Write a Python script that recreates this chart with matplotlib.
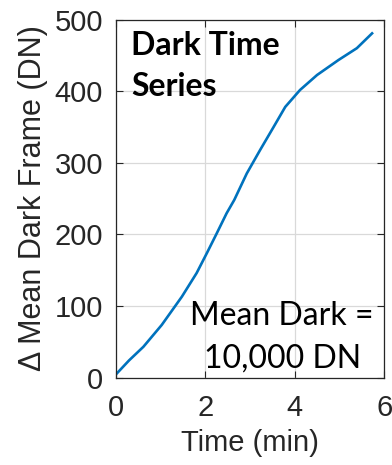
import numpy as np
import matplotlib
matplotlib.use("Agg")
from matplotlib import pyplot as plt

# values
time_min = [0.0, 0.30, 0.62, 1.03, 1.48, 1.81, 2.04, 2.26, 2.48, 2.65, 2.93, 3.23, 3.53, 3.79, 4.12, 4.50, 4.98, 5.39, 5.73]
dark_dn = [4, 24, 43, 73.5, 113, 146, 174, 201.5, 229.5, 248, 285, 318, 350, 378, 401.6, 422.5, 443.5, 460, 480.7]
x_ticks = [0, 2, 4, 6]
y_ticks = [0, 100, 200, 300, 400, 500]

plt.rcParams['font.family'] = ['Liberation Sans', 'DejaVu Sans']
fig = plt.figure(figsize=(3.92, 4.65), dpi=100)
ax = fig.add_axes([0.295, 0.188, 0.685, 0.770])

ax.plot(time_min, dark_dn, color='#0072BD', linewidth=1.9)
ax.set_xlim(0, 6)
ax.set_ylim(0, 500)
ax.set_xticks(x_ticks)
ax.set_yticks(y_ticks)
ax.grid(True, color='#d9d9d9', linewidth=0.9)
ax.set_axisbelow(True)
ax.tick_params(direction='in', top=True, right=True, labelsize=21, colors='#262626', length=5, width=0.8)
ax.tick_params(axis='x', pad=12)
ax.tick_params(axis='y', pad=9)
for s in ax.spines.values():
    s.set_color('#262626')
    s.set_linewidth(0.9)

ax.set_xlabel('Time (min)', fontsize=21, color='#262626', labelpad=5)
ax.set_ylabel('\u0394 Mean Dark Frame (DN)', fontsize=22, color='#262626', labelpad=5)

ax.text(0.058, 0.968, 'Dark Time\nSeries', transform=ax.transAxes, fontsize=23, fontweight='bold',
        family=['Lato', 'DejaVu Sans'], va='top', ha='left', linespacing=1.5)
ax.text(0.62, 0.012, 'Mean Dark =\n10,000 DN', transform=ax.transAxes, fontsize=23,
        family=['Lato', 'DejaVu Sans'], va='bottom', ha='center', linespacing=1.5)

fig.savefig('out.png', dpi=100)
